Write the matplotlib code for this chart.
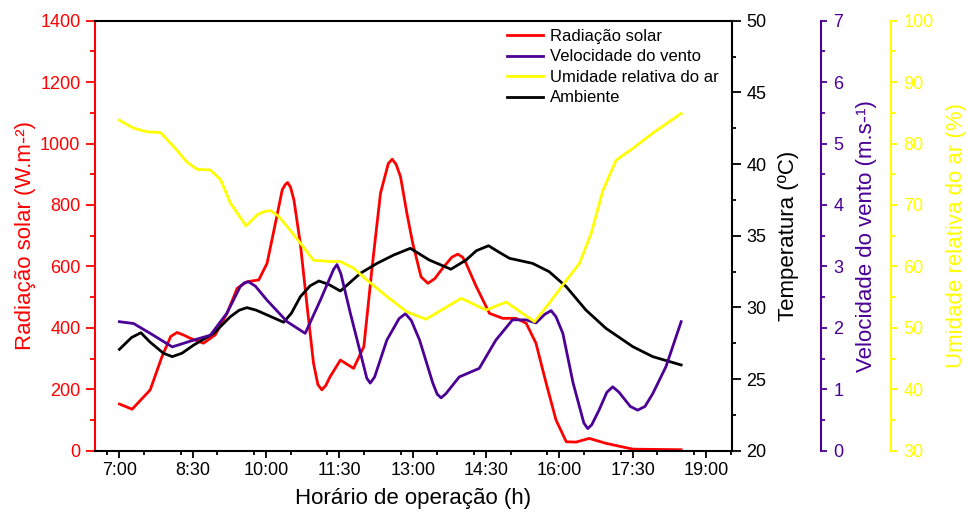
import matplotlib
matplotlib.use('Agg')
import matplotlib.pyplot as plt
from matplotlib.ticker import MultipleLocator, FixedLocator, FixedFormatter

plt.rcParams['font.family'] = ['Liberation Sans', 'DejaVu Sans']

# horário em horas decimais e valores
t_rad = [7.00, 7.26, 7.63, 7.87, 8.05, 8.18, 8.32, 8.45, 8.72, 8.96, 9.20, 9.41, 9.61,
         9.85, 10.02, 10.19, 10.33, 10.39, 10.44, 10.50, 10.57, 10.70, 10.84, 10.97,
         11.06, 11.14, 11.22, 11.31, 11.52, 11.79, 12.00, 12.17, 12.34, 12.50, 12.58,
         12.66, 12.75, 12.88, 13.00, 13.17, 13.31, 13.45, 13.61, 13.80, 13.92, 14.02,
         14.09, 14.30, 14.57, 14.84, 15.11, 15.32, 15.52, 15.73, 15.93, 16.14, 16.34,
         16.61, 16.95, 17.50, 18.49]
rad = [152, 135, 198, 306, 372, 385, 376, 366, 350, 377, 447, 529, 550,
       556, 610, 740, 849, 866, 873, 858, 816, 675, 469, 285,
       215, 198, 212, 241, 295, 268, 339, 599, 838, 935, 949,
       932, 892, 773, 675, 566, 545, 560, 594, 630, 640, 630,
       610, 534, 447, 431, 431, 415, 350, 219, 100, 29, 28,
       40, 24, 5, 3]

t_vento = [7.00, 7.29, 7.63, 8.08, 8.52, 8.86, 9.20, 9.47, 9.55, 9.64, 9.78, 10.02,
           10.43, 10.80, 11.11, 11.38, 11.45, 11.53, 11.72, 12.00, 12.06, 12.13, 12.22,
           12.47, 12.72, 12.85, 12.97, 13.14, 13.41, 13.50, 13.58, 13.68, 13.95, 14.36,
           14.70, 15.04, 15.32, 15.52, 15.70, 15.83, 15.93, 16.07, 16.28, 16.50, 16.58,
           16.66, 16.81, 16.97, 17.09, 17.22, 17.45, 17.60, 17.75, 17.91, 18.18, 18.49]
vento = [2.10, 2.07, 1.91, 1.69, 1.80, 1.88, 2.24, 2.67, 2.73, 2.75, 2.68, 2.45,
         2.10, 1.91, 2.45, 2.95, 3.03, 2.88, 2.25, 1.37, 1.18, 1.10, 1.20,
         1.80, 2.15, 2.23, 2.12, 1.80, 1.10, 0.92, 0.86, 0.93, 1.20, 1.34,
         1.80, 2.13, 2.13, 2.08, 2.22, 2.28, 2.18, 1.91, 1.10, 0.45, 0.36,
         0.42, 0.66, 0.95, 1.04, 0.95, 0.72, 0.66, 0.72, 0.93, 1.37, 2.10]

t_umid = [7.00, 7.29, 7.57, 7.84, 8.11, 8.38, 8.59, 8.86, 9.07, 9.27, 9.59, 9.82,
          9.95, 10.09, 10.25, 10.43, 10.70, 10.97, 11.31, 11.52, 11.79, 12.06, 12.47,
          12.88, 13.27, 13.99, 14.50, 14.91, 15.49, 15.79, 16.07, 16.41, 16.65, 16.89,
          17.16, 17.50, 17.91, 18.49]
umid = [83.8, 82.5, 81.9, 81.8, 79.5, 77.0, 75.8, 75.7, 74.1, 70.3, 66.6, 68.4,
        68.9, 69.1, 68.2, 66.5, 63.8, 61.0, 60.8, 60.8, 59.7, 57.8, 55.1,
        52.6, 51.4, 54.8, 52.9, 54.2, 51.0, 54.0, 57.0, 60.5, 65.4, 72.4,
        77.3, 79.2, 81.7, 84.9]

t_temp = [7.00, 7.25, 7.44, 7.62, 7.90, 8.08, 8.28, 8.52, 8.93, 9.27, 9.45, 9.61,
          9.80, 10.02, 10.20, 10.36, 10.52, 10.70, 10.90, 11.08, 11.28, 11.52, 11.93,
          12.27, 12.61, 12.95, 13.34, 13.78, 14.09, 14.30, 14.55, 14.75, 14.98, 15.45,
          15.79, 16.14, 16.54, 16.95, 17.50, 17.91, 18.49]
temp = [27.07, 27.90, 28.23, 27.60, 26.80, 26.56, 26.80, 27.37, 28.19, 29.35, 29.80, 29.98,
        29.80, 29.47, 29.20, 28.96, 29.60, 30.74, 31.50, 31.84, 31.60, 31.14, 32.38,
        33.07, 33.65, 34.12, 33.30, 32.66, 33.30, 33.95, 34.30, 33.88, 33.42, 33.07,
        32.49, 31.44, 29.82, 28.54, 27.26, 26.56, 25.98]

hora_ticks = [7, 8.5, 10, 11.5, 13, 14.5, 16, 17.5, 19]
hora_labels = ['7:00', '8:30', '10:00', '11:30', '13:00', '14:30', '16:00', '17:30', '19:00']

RED = '#FF0000'
PURPLE = '#4B0096'
YELLOW = '#FFFF00'
BLACK = '#000000'
TS = 13   # tamanho dos números
LS = 16   # tamanho dos títulos dos eixos
LW = 2.0

fig = plt.figure(figsize=(9.68, 5.15), dpi=100)
ax = fig.add_axes([0.0981, 0.1249, 0.6581, 0.8349])
ax_t = ax.twinx()
ax_w = ax.twinx()
ax_h = ax.twinx()

l1, = ax.plot(t_rad, rad, color=RED, lw=LW, label='Radiação solar')
l4, = ax_t.plot(t_temp, temp, color=BLACK, lw=LW, label='Ambiente')
l2, = ax_w.plot(t_vento, vento, color=PURPLE, lw=LW, label='Velocidade do vento')
l3, = ax_h.plot(t_umid, umid, color=YELLOW, lw=LW, label='Umidade relativa do ar')

ax.set_xlim(6.5, 19.53)
ax.set_ylim(0, 1400)
ax_t.set_ylim(20, 50)
ax_w.set_ylim(0, 7)
ax_h.set_ylim(30, 100)

# eixo x
ax.xaxis.set_major_locator(FixedLocator(hora_ticks))
ax.xaxis.set_major_formatter(FixedFormatter(hora_labels))
ax.xaxis.set_minor_locator(MultipleLocator(0.75))
ax.tick_params(axis='x', which='major', labelsize=TS, length=5, width=1.3, pad=3.5)
ax.tick_params(axis='x', which='minor', length=3.2, width=1.3)
ax.set_xlabel('Horário de operação (h)', fontsize=LS, labelpad=6)

# eixo esquerdo - radiação
ax.yaxis.set_major_locator(MultipleLocator(200))
ax.yaxis.set_minor_locator(MultipleLocator(100))
ax.tick_params(axis='y', which='major', colors=RED, labelsize=TS, length=6.5, width=1.3, pad=4)
ax.tick_params(axis='y', which='minor', colors=RED, length=3.6, width=1.3)
ax.set_ylabel('Radiação solar (W.m-²)', fontsize=LS, color=RED, labelpad=3)
ax.spines['left'].set_color(RED)
ax.spines['right'].set_visible(False)

# temperatura
ax_t.yaxis.set_major_locator(MultipleLocator(5))
ax_t.yaxis.set_minor_locator(MultipleLocator(2.5))
ax_t.tick_params(axis='y', which='major', colors=BLACK, labelsize=TS, length=6.5, width=1.3, pad=4)
ax_t.tick_params(axis='y', which='minor', length=3.2, width=1.3)
ax_t.set_ylabel('Temperatura (ºC)', fontsize=LS, labelpad=8)

# velocidade do vento
ax_w.spines['right'].set_position(('axes', 1.139))
ax_w.spines['right'].set_color(PURPLE)
ax_w.yaxis.set_major_locator(MultipleLocator(1))
ax_w.yaxis.set_minor_locator(MultipleLocator(0.5))
ax_w.tick_params(axis='y', which='major', colors=PURPLE, labelsize=TS, length=4.3, width=1.3, pad=5)
ax_w.tick_params(axis='y', which='minor', colors=PURPLE, length=3, width=1.3)
ax_w.set_ylabel('Velocidade do vento (m.s-¹)', fontsize=LS, color=PURPLE, labelpad=9)

# umidade
ax_h.spines['right'].set_position(('axes', 1.249))
ax_h.spines['right'].set_color(YELLOW)
ax_h.yaxis.set_major_locator(MultipleLocator(10))
ax_h.yaxis.set_minor_locator(MultipleLocator(5))
ax_h.tick_params(axis='y', which='major', colors=YELLOW, labelsize=TS, length=4.3, width=1.3, pad=5)
ax_h.tick_params(axis='y', which='minor', colors=YELLOW, length=3, width=1.3)
ax_h.set_ylabel('Umidade relativa do ar (%)', fontsize=LS, color=YELLOW, labelpad=9)

for a in (ax, ax_t, ax_w, ax_h):
    for s in a.spines.values():
        s.set_linewidth(1.5)
for a in (ax_t, ax_w, ax_h):
    a.spines['left'].set_visible(False)
    a.spines['top'].set_visible(False)
    a.spines['bottom'].set_visible(False)

fig.legend(handles=[l1, l2, l3, l4], loc='upper left', bbox_to_anchor=(0.5238, 0.944),
           frameon=False, fontsize=12, borderpad=0, borderaxespad=0,
           handlelength=2.17, handletextpad=0.4, labelspacing=0.33)

fig.savefig('out.png', dpi=100)
